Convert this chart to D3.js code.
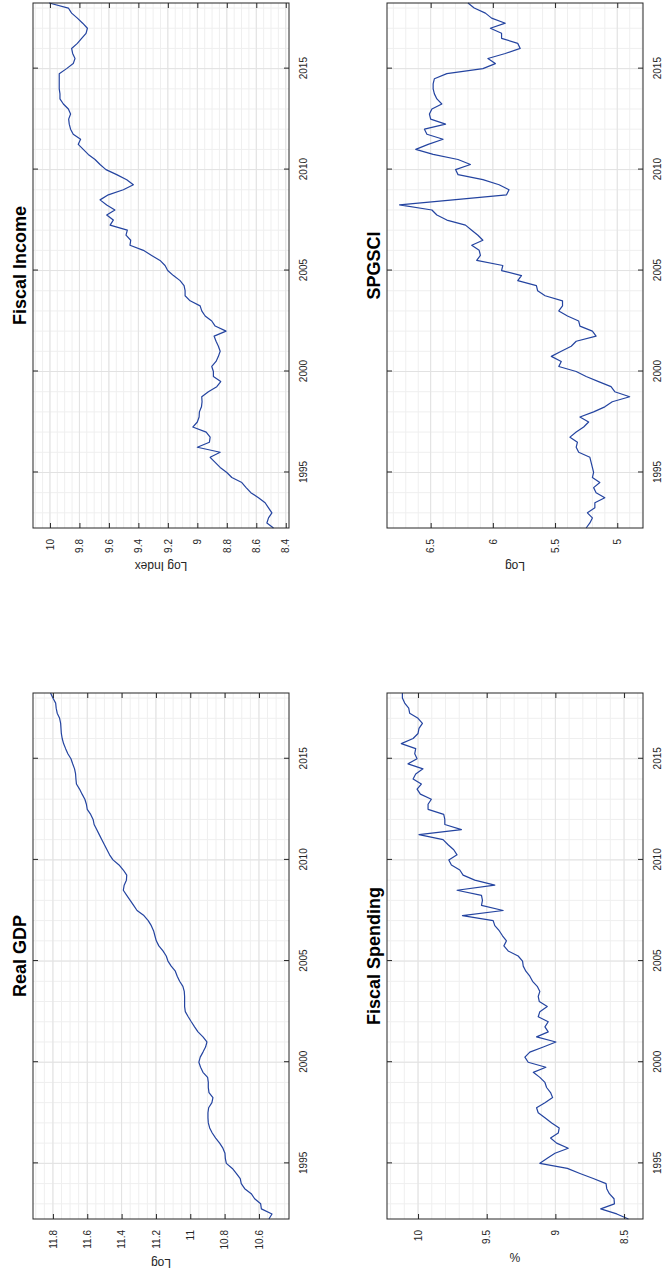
<!DOCTYPE html>
<html>
<head>
<meta charset="utf-8">
<script src="https://cdn.jsdelivr.net/npm/d3@7"></script>
<style>
  body { margin: 0; background: #fff; }
  svg { display: block; }
  text { font-family: "Liberation Sans", Arial, Helvetica, sans-serif; }
</style>
</head>
<body>
<script>
//Quarterly dates, 1992Q2 .. 2018Q2
const fechas = d3.range(105).map(function(i) { return 1992.25 + i * 0.25; });
const yearTicks = [1995, 2000, 2005, 2010, 2015];

//Series
const realGdp = [10.542,10.524,10.586,10.590,10.625,10.645,10.683,10.703,10.709,10.732,
  10.755,10.790,10.796,10.798,10.810,10.829,10.852,10.872,10.887,10.895,
  10.897,10.897,10.893,10.874,10.868,10.891,10.895,10.895,10.899,10.926,
  10.940,10.950,10.942,10.926,10.911,10.903,10.926,10.955,10.975,10.994,
  11.012,11.029,11.033,11.033,11.033,11.035,11.043,11.062,11.076,11.087,
  11.111,11.130,11.140,11.159,11.183,11.198,11.206,11.214,11.227,11.245,
  11.270,11.310,11.330,11.350,11.370,11.390,11.385,11.372,11.370,11.390,
  11.415,11.450,11.470,11.485,11.500,11.515,11.530,11.545,11.560,11.566,
  11.580,11.600,11.605,11.614,11.630,11.645,11.663,11.666,11.668,11.674,
  11.685,11.695,11.713,11.726,11.738,11.746,11.751,11.753,11.755,11.761,
  11.775,11.781,11.784,11.800,11.814];

const fiscalSpending = [8.468,8.553,8.670,8.570,8.573,8.607,8.626,8.631,8.724,8.821,
  8.913,9.113,9.059,9.003,8.906,8.991,9.035,8.979,8.972,9.027,
  9.076,9.125,9.137,9.076,9.020,9.035,9.064,9.076,9.113,9.161,
  9.069,9.198,9.222,9.186,9.088,8.996,9.137,9.052,9.076,9.052,
  9.125,9.113,9.059,9.117,9.125,9.113,9.132,9.166,9.186,9.215,
  9.234,9.239,9.271,9.344,9.375,9.356,9.385,9.409,9.441,9.453,
  9.677,9.380,9.538,9.531,9.538,9.716,9.441,9.587,9.672,9.696,
  9.757,9.776,9.716,9.740,9.781,9.818,9.993,9.684,9.805,9.805,
  9.813,9.927,9.927,9.903,9.983,10.007,9.976,10.036,10.017,9.964,
  10.073,10.007,10.024,10.017,10.122,10.036,10.000,9.993,9.968,10.000,
  10.061,10.068,10.097,10.114,10.114];

const fiscalIncome = [8.483,8.528,8.517,8.494,8.517,8.540,8.585,8.637,8.669,8.698,
  8.766,8.800,8.845,8.879,8.913,8.845,9.000,8.918,8.913,8.940,
  9.031,9.000,8.988,8.986,8.972,8.968,8.970,8.925,8.868,8.841,
  8.891,8.891,8.902,8.873,8.857,8.845,8.857,8.873,8.886,8.805,
  8.879,8.902,8.947,8.970,8.981,9.049,9.083,9.083,9.090,9.117,
  9.162,9.201,9.219,9.253,9.310,9.366,9.457,9.452,9.484,9.475,
  9.592,9.570,9.615,9.559,9.615,9.660,9.604,9.502,9.434,9.479,
  9.547,9.620,9.660,9.694,9.740,9.774,9.808,9.792,9.842,9.860,
  9.869,9.873,9.860,9.875,9.909,9.932,9.932,9.937,9.937,9.937,
  9.937,9.887,9.842,9.830,9.846,9.853,9.814,9.785,9.755,9.746,
  9.778,9.814,9.853,9.875,10.005];

const spgsci = [5.25,5.22,5.20,5.24,5.18,5.18,5.10,5.17,5.19,5.14,
  5.20,5.19,5.20,5.21,5.22,5.31,5.33,5.32,5.38,5.33,
  5.27,5.23,5.30,5.19,5.10,5.04,4.90,5.02,5.05,5.15,
  5.25,5.33,5.47,5.45,5.53,5.45,5.37,5.33,5.17,5.20,
  5.30,5.31,5.40,5.47,5.44,5.44,5.58,5.64,5.65,5.80,
  5.77,5.93,5.92,6.13,6.10,6.11,6.17,6.08,6.12,6.17,
  6.22,6.37,6.45,6.49,6.75,6.32,5.89,5.87,5.95,6.08,
  6.28,6.30,6.18,6.28,6.48,6.62,6.52,6.40,6.53,6.55,
  6.38,6.50,6.51,6.49,6.41,6.45,6.47,6.48,6.48,6.47,
  6.37,6.08,5.98,6.04,5.90,5.78,5.80,5.93,5.93,6.02,
  5.90,6.01,6.06,6.15,6.20];

//Tick labels of each value axis
const gdpTicks = [10.6, 10.8, 11, 11.2, 11.4, 11.6, 11.8];
const spendingTicks = [8.5, 9, 9.5, 10];
const incomeTicks = [8.4, 8.6, 8.8, 9, 9.2, 9.4, 9.6, 9.8, 10];
const spgsciTicks = [5, 5.5, 6, 6.5];

//The figure is drawn landscape and turned a quarter turn on the page
const figW = 1275, figH = 663;
const colorLinea = "#2444a0";
const colorEjes = "#262626";

var svg = d3.select("body")
  .append("svg")
  .attr("width", figH)
  .attr("height", figW);

var root = svg.append("g")
  .attr("transform", "translate(0," + figW + ") rotate(-90)");

//Draws one subplot
function drawPanel(p) {
  var x = d3.scaleLinear().domain([fechas[0], fechas[fechas.length - 1]]).range([p.left, p.right]);
  var y = d3.scaleLinear().domain(p.domain).range([p.bottom, p.top]);

  var g = root.append("g");

  g.append("rect")
    .attr("x", p.left).attr("y", p.top)
    .attr("width", p.right - p.left).attr("height", p.bottom - p.top)
    .attr("fill", "#fff");

  //Minor grid
  var minorYears = d3.range(1993, 2019).filter(function(d) { return x(d) > p.left && x(d) < p.right; });
  var minorVals = d3.range(Math.ceil(p.domain[0] / p.minor), Math.floor(p.domain[1] / p.minor) + 1)
    .map(function(k) { return k * p.minor; });

  g.selectAll(".vminor").data(minorYears).enter().append("line")
    .attr("x1", function(d) { return x(d); }).attr("x2", function(d) { return x(d); })
    .attr("y1", p.top).attr("y2", p.bottom)
    .attr("stroke", "#efefef").attr("stroke-width", 1);

  g.selectAll(".hminor").data(minorVals).enter().append("line")
    .attr("x1", p.left).attr("x2", p.right)
    .attr("y1", function(d) { return y(d); }).attr("y2", function(d) { return y(d); })
    .attr("stroke", "#efefef").attr("stroke-width", 1);

  //Major grid
  g.selectAll(".vmajor").data(yearTicks).enter().append("line")
    .attr("x1", function(d) { return x(d); }).attr("x2", function(d) { return x(d); })
    .attr("y1", p.top).attr("y2", p.bottom)
    .attr("stroke", "#e2e2e2").attr("stroke-width", 1);

  g.selectAll(".hmajor").data(p.ticks).enter().append("line")
    .attr("x1", p.left).attr("x2", p.right)
    .attr("y1", function(d) { return y(d); }).attr("y2", function(d) { return y(d); })
    .attr("stroke", "#e2e2e2").attr("stroke-width", 1);

  //Series line
  var linea = d3.line()
    .x(function(d, i) { return x(fechas[i]); })
    .y(function(d) { return y(d); });

  g.append("path")
    .datum(p.values)
    .attr("d", linea)
    .attr("fill", "none")
    .attr("stroke", colorLinea)
    .attr("stroke-width", 1.2)
    .attr("stroke-linejoin", "round");

  //Axes, ticks pointing inward on the four sides
  var fmt = function(d) { return String(+d.toFixed(2)); };

  var axB = g.append("g").attr("transform", "translate(0," + p.bottom + ")")
    .call(d3.axisBottom(x).tickValues(yearTicks).tickFormat(d3.format("d")).tickSize(-5).tickSizeOuter(0).tickPadding(11));
  var axT = g.append("g").attr("transform", "translate(0," + p.top + ")")
    .call(d3.axisTop(x).tickValues(yearTicks).tickFormat("").tickSize(-5).tickSizeOuter(0));
  var axL = g.append("g").attr("transform", "translate(" + p.left + ",0)")
    .call(d3.axisLeft(y).tickValues(p.ticks).tickFormat(fmt).tickSize(-5).tickSizeOuter(0).tickPadding(11));
  var axR = g.append("g").attr("transform", "translate(" + p.right + ",0)")
    .call(d3.axisRight(y).tickValues(p.ticks).tickFormat("").tickSize(-5).tickSizeOuter(0));

  [axB, axT, axL, axR].forEach(function(a) {
    a.select(".domain").remove();
    a.selectAll(".tick line").attr("stroke", colorEjes);
    a.selectAll("text")
      .attr("fill", colorEjes)
      .style("font-size", "10px")
      .style("font-family", "'Liberation Sans', Arial, sans-serif");
  });

  //Box
  g.append("rect")
    .attr("x", p.left).attr("y", p.top)
    .attr("width", p.right - p.left).attr("height", p.bottom - p.top)
    .attr("fill", "none")
    .attr("stroke", colorEjes)
    .attr("stroke-width", 1);

  //Value axis label, placed beyond the widest tick label
  var maxW = 0;
  axL.selectAll("text").each(function() { maxW = Math.max(maxW, this.getComputedTextLength()); });
  var lx = p.left - 11 - maxW - 9.5;
  var cy = (p.top + p.bottom) / 2;
  g.append("text")
    .attr("transform", "translate(" + lx + "," + cy + ") rotate(-90)")
    .attr("text-anchor", "middle")
    .attr("fill", colorEjes)
    .style("font-size", "12px")
    .text(p.ylab);

  //Title
  g.append("text")
    .attr("x", (p.left + p.right) / 2)
    .attr("y", p.top - 7)
    .attr("text-anchor", "middle")
    .attr("fill", "#000")
    .style("font-size", "18px")
    .style("font-weight", "bold")
    .text(p.title);
}

var col1 = {left: 56, right: 582};
var col2 = {left: 747, right: 1272};
var row1 = {top: 33, bottom: 289};
var row2 = {top: 387, bottom: 643};

drawPanel(Object.assign({title: "Real GDP", ylab: "Log", values: realGdp, ticks: gdpTicks,
  domain: [10.425, 11.916], minor: 0.05}, col1, row1));
drawPanel(Object.assign({title: "Fiscal Spending", ylab: "%", values: fiscalSpending, ticks: spendingTicks,
  domain: [8.362, 10.226], minor: 0.1}, col1, row2));
drawPanel(Object.assign({title: "Fiscal Income", ylab: "Log Index", values: fiscalIncome, ticks: incomeTicks,
  domain: [8.378, 10.115], minor: 0.05}, col2, row1));
drawPanel(Object.assign({title: "SPGSCI", ylab: "Log", values: spgsci, ticks: spgsciTicks,
  domain: [4.793, 6.851], minor: 0.1}, col2, row2));
</script>
</body>
</html>
